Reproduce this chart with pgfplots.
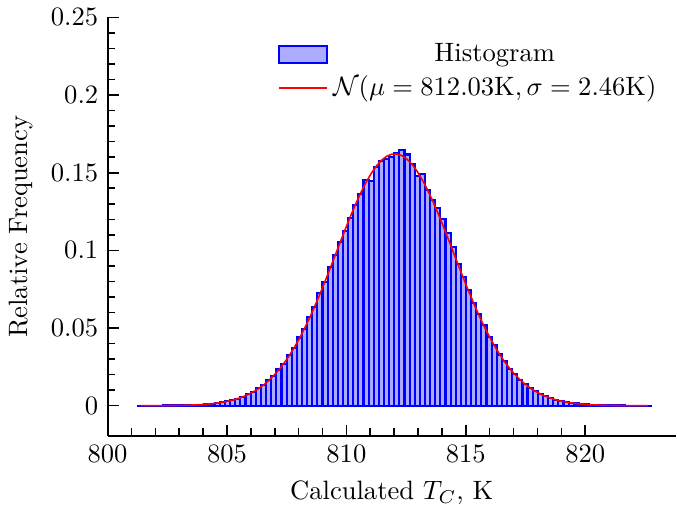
\documentclass[border=0pt]{standalone}
\usepackage{pgfplots}
\usepackage{pgfplotstable}
\pgfplotsset{compat=1.18}
\pgfplotsset{
  histleg/.style={legend image code/.code={\draw[fill=blue!33, draw=blue, line width=0.8pt] (0pt,-3.2pt) rectangle (17.8pt,3.2pt);}},
  lineleg/.style={legend image code/.code={\draw[red, line width=0.5pt] (0pt,0pt) -- (17.8pt,0pt);}},
}
\pgfplotstableread{
c h p
801.377 0.00001 0.00001
801.592 0.00002 0.00002
801.806 0.00003 0.00003
802.021 0.00004 0.00004
802.236 0.00006 0.00006
802.451 0.00009 0.00008
802.665 0.00011 0.00012
802.880 0.00017 0.00016
803.095 0.00021 0.00022
803.309 0.00031 0.00030
803.524 0.00040 0.00041
803.739 0.00057 0.00055
803.953 0.00072 0.00074
804.168 0.00101 0.00098
804.383 0.00131 0.00129
804.598 0.00165 0.00169
804.812 0.00224 0.00219
805.027 0.00279 0.00282
805.242 0.00368 0.00360
805.456 0.00455 0.00456
805.671 0.00560 0.00574
805.886 0.00735 0.00717
806.100 0.00879 0.00888
806.315 0.01112 0.01091
806.530 0.01315 0.01331
806.745 0.01640 0.01612
806.959 0.01920 0.01938
807.174 0.02330 0.02309
807.389 0.02710 0.02734
807.603 0.03250 0.03212
807.818 0.03720 0.03745
808.033 0.04390 0.04332
808.247 0.04930 0.04973
808.462 0.05720 0.05664
808.677 0.06380 0.06406
808.892 0.07250 0.07186
809.106 0.07960 0.08002
809.321 0.08950 0.08843
809.536 0.09700 0.09698
809.750 0.10560 0.10554
809.965 0.11250 0.11401
810.180 0.12070 0.12221
810.394 0.12930 0.13001
810.609 0.13650 0.13725
810.824 0.14550 0.14380
811.039 0.14440 0.14952
811.253 0.15370 0.15427
811.468 0.15740 0.15799
811.683 0.15890 0.16056
811.897 0.16020 0.16193
812.112 0.16240 0.16208
812.327 0.16450 0.16100
812.541 0.16170 0.15871
812.756 0.15590 0.15526
812.971 0.14810 0.15074
813.186 0.14940 0.14523
813.400 0.13900 0.13888
813.615 0.13260 0.13178
813.830 0.12710 0.12410
814.044 0.12000 0.11598
814.259 0.11140 0.10758
814.474 0.10230 0.09902
814.688 0.09100 0.09045
814.903 0.08300 0.08199
815.118 0.07450 0.07376
815.333 0.06600 0.06587
815.547 0.05900 0.05836
815.762 0.05180 0.05132
815.977 0.04420 0.04478
816.191 0.03920 0.03879
816.406 0.03300 0.03334
816.621 0.02870 0.02843
816.835 0.02380 0.02407
817.050 0.02040 0.02022
817.265 0.01670 0.01686
817.480 0.01410 0.01394
817.694 0.01130 0.01145
817.909 0.00950 0.00933
818.124 0.00740 0.00754
818.338 0.00615 0.00605
818.553 0.00475 0.00482
818.768 0.00390 0.00381
818.982 0.00295 0.00299
819.197 0.00236 0.00233
819.412 0.00178 0.00180
819.627 0.00140 0.00138
819.841 0.00103 0.00105
820.056 0.00081 0.00079
820.271 0.00058 0.00059
820.485 0.00045 0.00044
820.700 0.00032 0.00033
820.915 0.00025 0.00024
821.129 0.00017 0.00017
821.344 0.00012 0.00013
821.559 0.00009 0.00009
821.774 0.00006 0.00006
821.988 0.00004 0.00004
822.203 0.00003 0.00003
822.418 0.00002 0.00002
822.632 0.00001 0.00001
}\histdata
\begin{document}
\begin{tikzpicture}
\begin{axis}[
  scale only axis,
  width=214pt, height=157.6pt,
  xmin=800, xmax=823.8,
  ymin=-0.0195, ymax=0.25,
  axis x line*=bottom, axis y line*=left,
  axis line style={line width=0.8pt},
  every tick/.style={line width=0.6pt, black},
  xtick={800,805,810,815,820},
  ytick={0,0.05,0.1,0.15,0.2,0.25},
  minor x tick num=4, minor y tick num=4,
  scaled y ticks=false,
  yticklabel style={/pgf/number format/fixed, /pgf/number format/precision=2},
  xticklabel style={/pgf/number format/1000 sep={}},
  xlabel={Calculated $T_C$, K},
  ylabel={Relative Frequency},
  legend cell align=center,
  legend style={at={(0.99,0.965)}, anchor=north east, draw=none, fill=none},
]
\addplot[ybar, bar width=0.2147, bar shift=0pt, fill=blue!33, draw=blue, line width=0.8pt, histleg]
  table[x=c, y=h] {\histdata};
\addlegendentry{Histogram}
\addplot[red, line width=0.6pt, mark=none, lineleg]
  table[x=c, y=p] {\histdata};
\addlegendentry{$\mathcal{N}(\mu=812.03\mathrm{K}, \sigma=2.46\mathrm{K})$}
\end{axis}
\end{tikzpicture}
\end{document}
